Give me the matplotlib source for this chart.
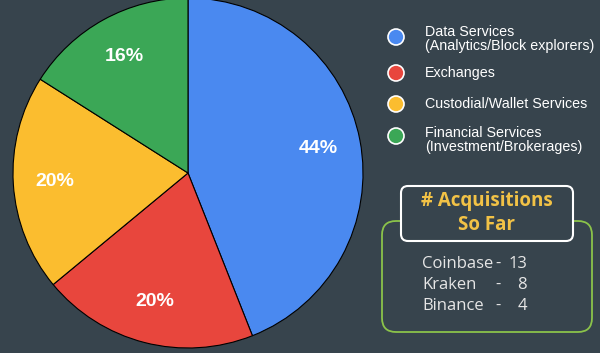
import matplotlib
matplotlib.use("Agg")
import matplotlib.pyplot as plt
from matplotlib.patches import FancyBboxPatch, Circle

# data
categories = ["Data Services\n(Analytics/Block explorers)", "Exchanges",
              "Custodial/Wallet Services", "Financial Services\n(Investment/Brokerages)"]
shares = [44, 20, 20, 16]
colors = ["#4a89f0", "#e8463d", "#fbbd2f", "#3ba756"]
exchanges = ["Coinbase", "Kraken", "Binance"]
acquisitions = [13, 8, 4]

bg = "#37444d"
W, H = 600, 353

fig = plt.figure(figsize=(6, 3.53), dpi=100, facecolor=bg)

# pie axes placed in pixel terms: centre (188,173), radius 175
cx, cy, r = 188, 173, 175
ax = fig.add_axes([(cx - r) / W, (H - cy - r) / H, 2 * r / W, 2 * r / H])
ax.set_facecolor(bg)
wedges, texts, autotexts = ax.pie(
    shares, colors=colors, startangle=90, counterclock=False,
    autopct="%d%%", pctdistance=0.76,
    wedgeprops=dict(edgecolor="black", linewidth=0.8),
    textprops=dict(color="white", fontsize=14, fontweight="bold",
                   family="Liberation Sans"))
ax.set_xlim(-1, 1)
ax.set_ylim(-1, 1)
ax.set_aspect("equal")
ax.axis("off")

# overlay axes in pixel coordinates for legend and info box
ov = fig.add_axes([0, 0, 1, 1])
ov.set_xlim(0, W)
ov.set_ylim(H, 0)
ov.axis("off")
ov.patch.set_alpha(0)

leg_y = [37, 73, 104, 136]
text_y = [39, 73, 104, 140]
for col, lab, y, ty in zip(colors, categories, leg_y, text_y):
    ov.add_patch(Circle((396, y), 8, facecolor=col, edgecolor="white", lw=1.2))
    ov.text(425, ty, lab, color="white", fontsize=10.3, family="Liberation Sans",
            va="center", ha="left", linespacing=0.95)

# outer green box
ov.add_patch(FancyBboxPatch((382, 221), 210, 111,
                            boxstyle="round,pad=0,rounding_size=14",
                            facecolor=bg, edgecolor="#8bc34a", lw=1.3))
# title box
ov.add_patch(FancyBboxPatch((401, 186), 172, 55,
                            boxstyle="round,pad=0,rounding_size=7",
                            facecolor=bg, edgecolor="white", lw=1.5))
ov.text(487, 213, "# Acquisitions\nSo Far", color="#f2c246", fontsize=13.5,
        fontweight="bold", family="Open Sans", ha="center", va="center",
        linespacing=1.3)

for i, (name, n) in enumerate(zip(exchanges, acquisitions)):
    y = 264 + i * 21
    ov.text(422, y, name, color="#e6e6e6", fontsize=12, family="Open Sans",
            va="center", ha="left")
    ov.text(498, y, "-", color="#e6e6e6", fontsize=12, family="Open Sans",
            va="center", ha="center")
    ov.text(527, y, str(n), color="#e6e6e6", fontsize=12, family="Open Sans",
            va="center", ha="right")

fig.savefig("out.png", dpi=100, facecolor=bg)
